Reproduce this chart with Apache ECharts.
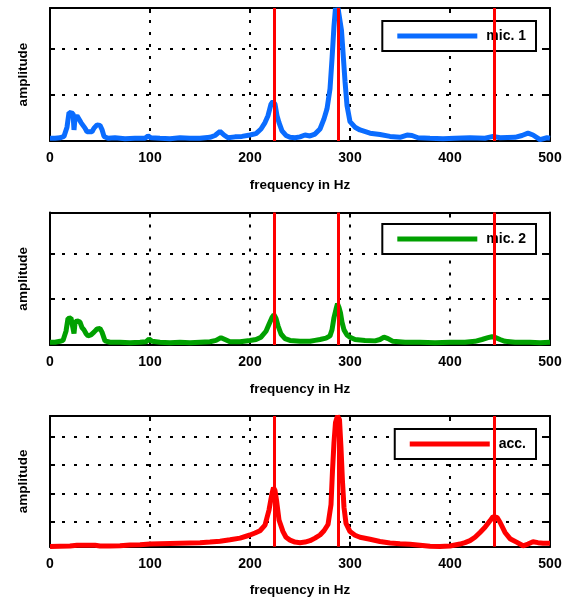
<!DOCTYPE html>
<html><head><meta charset="utf-8">
<script src="https://cdn.jsdelivr.net/npm/echarts@6/dist/echarts.min.js"></script>
<style>html,body{margin:0;padding:0;background:#fff}#c{width:573px;height:601px}</style>
</head><body><div id="c"></div>
<script>
// ---- data ----
const xTickLabels = [0, 100, 200, 300, 400, 500];
const resonanceHz = [224, 288, 444];
const seriesNames = ['mic. 1', 'mic. 2', 'acc.'];

const mic1Hz  = [0,5,10,14,17,19,21,23,24,25,27,29,31,33,35,37,39,42,44,47,50,52,54,58,65,75,85,95,98,101,110,120,130,140,150,160,165,170,174,178,185,192,200,206,211,215,218,221,223,225,227,229,232,236,240,245,250,255,260,265,270,274,277,280,282,284,285.5,287,288,290,291.5,293,295,297,300,305,310,320,330,340,350,357,362,368,380,393,405,420,435,443,450,465,472,478,483,490,497,500];
const mic1Amp = [0.06,0.06,0.07,0.1,0.3,0.62,0.64,0.6,0.24,0.5,0.55,0.52,0.4,0.36,0.28,0.2,0.24,0.2,0.28,0.35,0.34,0.25,0.1,0.06,0.07,0.05,0.06,0.06,0.11,0.07,0.06,0.05,0.07,0.06,0.06,0.08,0.12,0.21,0.13,0.07,0.09,0.1,0.13,0.16,0.26,0.4,0.55,0.8,0.86,0.8,0.55,0.4,0.22,0.12,0.08,0.07,0.09,0.13,0.11,0.15,0.26,0.48,0.7,1.13,1.78,2.5,2.89,2.75,2.89,2.85,2.4,1.93,1.3,0.77,0.42,0.3,0.24,0.17,0.14,0.1,0.08,0.13,0.12,0.07,0.06,0.05,0.06,0.07,0.06,0.1,0.07,0.08,0.12,0.17,0.13,0.03,0.07,0.06];

const mic2Hz  = [0,5,10,13,16,18,21,23,24,25,27,30,32,34,36,38,41,44,47,50,52,55,60,70,80,90,96,99,102,110,120,130,140,150,160,166,171,175,180,190,200,206,211,216,219,222,224,226,228,231,235,240,250,260,265,270,276,280,282,284,286,287.5,289,290.5,292,294,297,300,305,315,325,330,334,338,343,355,370,385,400,415,425,432,438,442,446,450,455,465,480,490,500];
const mic2Amp = [0.06,0.06,0.08,0.1,0.3,0.58,0.59,0.55,0.25,0.48,0.53,0.5,0.38,0.33,0.25,0.2,0.22,0.28,0.35,0.36,0.28,0.09,0.06,0.06,0.05,0.06,0.07,0.13,0.08,0.06,0.05,0.06,0.05,0.06,0.07,0.1,0.16,0.12,0.07,0.07,0.1,0.12,0.17,0.3,0.45,0.6,0.66,0.58,0.42,0.24,0.14,0.1,0.08,0.08,0.1,0.12,0.15,0.2,0.33,0.6,0.78,0.9,0.82,0.7,0.5,0.33,0.22,0.17,0.12,0.1,0.09,0.12,0.17,0.14,0.08,0.06,0.06,0.05,0.06,0.06,0.08,0.12,0.16,0.18,0.16,0.12,0.08,0.06,0.06,0.05,0.06];

const accHz  = [0,10,20,27,35,45,50,60,70,80,90,100,110,120,130,140,150,160,170,180,190,200,205,210,215,219,222,223.5,225,226.5,229,233,236,240,245,250,255,260,265,270,274,278,281,282.5,284,285.5,287.5,289.5,291,292.5,294,296,300,305,310,320,330,340,350,360,370,380,390,400,410,415,420,425,430,435,440,443,445,447,450,455,460,467,473,478,483,488,493,500];
const accAmp = [0.12,0.13,0.14,0.17,0.17,0.17,0.14,0.14,0.15,0.18,0.19,0.21,0.22,0.23,0.24,0.25,0.26,0.28,0.31,0.36,0.42,0.53,0.6,0.68,0.88,1.41,2.0,2.2,2.1,1.76,1.06,0.65,0.45,0.35,0.28,0.26,0.28,0.33,0.42,0.53,0.68,0.9,1.6,2.8,3.8,4.5,4.73,4.6,3.6,2.4,1.5,0.94,0.65,0.52,0.45,0.38,0.3,0.25,0.22,0.2,0.17,0.13,0.12,0.14,0.21,0.26,0.33,0.45,0.62,0.8,1.03,1.18,1.24,1.15,0.98,0.62,0.4,0.27,0.15,0.21,0.29,0.26,0.24,0.24];

// ---- layout/style ----
const FONT = "'Liberation Sans', Arial, Helvetica, sans-serif";
const panels = [
  {name: seriesNames[0], hz: mic1Hz, amp: mic1Amp, color: '#0a6cff', top: 8, height: 133, yMin: 0, yMax: 2.89, yInterval: 1, legendTop: 21},
  {name: seriesNames[1], hz: mic2Hz, amp: mic2Amp, color: '#00a000', top: 212.5, height: 132.5, yMin: 0, yMax: 2.89, yInterval: 1, legendTop: 224},
  {name: seriesNames[2], hz: accHz, amp: accAmp, color: '#ff0000', top: 416, height: 130.7, yMin: 0.117, yMax: 4.73, yInterval: null, legendTop: 429}
];

const black = '#000';
const axisLine = {show: true, onZero: false, lineStyle: {color: black, width: 2}};
const axisTick = {show: true, inside: true, length: 5, lineStyle: {color: black, width: 2}};
const gridLine = {show: true, lineStyle: {color: black, width: 2, type: [3, 9]}};
const txt = {color: black, fontSize: 13.5, fontWeight: 'bold', fontFamily: FONT};
const tickTxt = {color: black, fontSize: 14, fontWeight: 'bold', fontFamily: FONT};

const grid = [], xAxis = [], yAxis = [], series = [], legend = [];
panels.forEach((p, i) => {
  grid.push({left: 50, right: 23, top: p.top, height: p.height});
  xAxis.push({gridIndex: i, type: 'value', position: 'bottom', min: 0, max: 500, interval: 100,
    axisLine, axisTick, splitLine: gridLine,
    axisLabel: Object.assign({margin: 10, formatter: v => xTickLabels.includes(v) ? String(v) : ''}, tickTxt),
    name: 'frequency in Hz', nameLocation: 'middle', nameGap: 37, nameTextStyle: txt});
  xAxis.push({gridIndex: i, type: 'value', position: 'top', min: 0, max: 500, interval: 100,
    axisLine, axisTick, splitLine: {show: false}, axisLabel: {show: false}});
  const yBase = {gridIndex: i, type: 'value', min: p.yMin, max: p.yMax};
  if (p.yInterval) yBase.interval = p.yInterval; else yBase.splitNumber = 5;
  yAxis.push(Object.assign({}, yBase, {position: 'left', axisLine, axisTick, splitLine: gridLine,
    axisLabel: {show: false}, name: 'amplitude', nameLocation: 'middle', nameGap: 20, nameTextStyle: txt}));
  yAxis.push(Object.assign({}, yBase, {position: 'right', axisLine, axisTick, splitLine: {show: false}, axisLabel: {show: false}}));
  series.push({name: p.name, type: 'line', xAxisIndex: 2 * i, yAxisIndex: 2 * i,
    data: p.hz.map((h, k) => [h, p.amp[k]]), showSymbol: false, symbol: 'none',
    lineStyle: {color: p.color, width: 5}, itemStyle: {color: p.color}, z: 2});
  series.push({name: 'res' + i, type: 'line', xAxisIndex: 2 * i, yAxisIndex: 2 * i, data: [], z: 3,
    markLine: {silent: true, symbol: ['none', 'none'], label: {show: false},
      lineStyle: {color: '#ff0000', width: 3, type: 'solid'},
      data: resonanceHz.map(v => ({xAxis: v}))}});
  legend.push({data: [p.name], right: 37, top: p.legendTop, icon: 'rect', itemWidth: 80, itemHeight: 5,
    padding: [8, 10, 8, 15], borderColor: black, borderWidth: 2, backgroundColor: '#fff', borderRadius: 0,
    textStyle: Object.assign({padding: [0, 0, 0, 4]}, tickTxt), selectedMode: false});
});

const chart = echarts.init(document.getElementById('c'));
chart.setOption({animation: false, backgroundColor: '#fff', grid, xAxis, yAxis, series, legend});
</script></body></html>
